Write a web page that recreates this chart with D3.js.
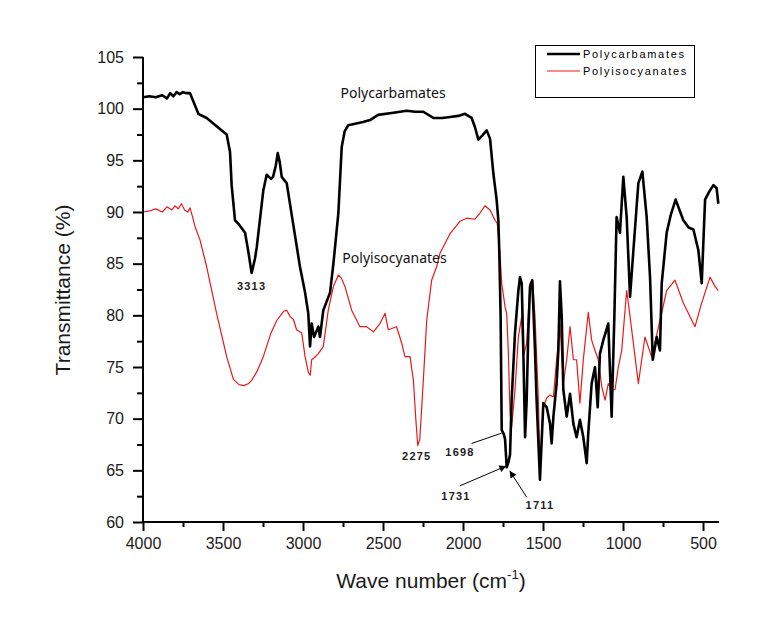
<!DOCTYPE html>
<html>
<head>
<meta charset="utf-8">
<script src="https://cdn.jsdelivr.net/npm/d3@7"></script>
<style>
  html, body { margin: 0; padding: 0; background: #fff; }
  svg { display: block; }
</style>
</head>
<body>
<svg id="chart" width="767" height="639"></svg>
<script>
// ---- Data ----
const seriesNames = ["Polycarbamates", "Polyisocyanates"];

const carbWave = [4000,3960,3920,3880,3850,3830,3810,3790,3770,3750,3730,3706,3685,3654,3602,3540,3477,3456,3446,3425,3400,3362,3340,3321,3300,3289,3248,3227,3200,3187,3170,3158,3145,3133,3102,3062,3019,2987,2967,2956,2946,2931,2904,2894,2873,2831,2810,2779,2758,2740,2717,2625,2581,2531,2435,2352,2300,2248,2185,2130,2081,2030,1988,1946,1925,1904,1880,1852,1831,1810,1790,1779,1773,1765,1758,1745,1737,1727,1716,1706,1696,1675,1654,1644,1633,1623,1612,1602,1592,1581,1567,1550,1540,1519,1498,1477,1456,1446,1435,1415,1404,1394,1383,1373,1352,1331,1310,1290,1269,1248,1227,1217,1196,1175,1158,1144,1123,1092,1071,1054,1040,1019,998,977,956,935,904,879,852,831,814,789,769,758,727,700,671,623,590,560,529,508,487,460,435,415,404];
const carbT = [101.1,101.2,101.1,101.3,101.0,101.5,101.2,101.6,101.4,101.6,101.5,101.5,100.7,99.5,99.1,98.3,97.5,95.8,92.6,89.2,88.8,88.0,86.0,84.1,85.5,86.6,92.1,93.6,93.2,93.4,94.5,95.7,94.8,93.4,92.8,88.9,84.7,82.2,80.2,77.0,79.2,77.9,78.9,77.9,80.5,82.2,85.0,89.9,96.3,97.8,98.4,98.7,98.9,99.4,99.6,99.8,99.7,99.7,99.1,99.1,99.2,99.3,99.5,99.1,98.2,97.0,97.4,97.9,97.1,93.7,91.2,89.2,86.0,80.0,68.9,68.5,68.0,65.3,65.8,66.5,71.8,78.3,82.4,83.7,83.1,76.6,68.2,71.8,78.3,82.8,83.4,76.6,71.8,64.1,71.5,71.1,69.5,67.6,70.2,73.4,76.6,83.3,79.9,72.8,70.2,72.4,69.5,68.2,69.9,68.2,65.7,68.6,73.4,75.0,71.1,76.3,77.6,79.2,70.2,79.9,89.5,88.0,93.4,89.5,81.8,86.3,92.8,93.9,89.5,83.7,75.7,77.9,76.6,83.1,88.0,89.8,91.2,89.2,88.5,88.3,86.3,83.1,91.2,92.0,92.6,92.3,90.8];

const isoWave = [4000,3960,3920,3880,3850,3820,3800,3780,3760,3740,3720,3706,3690,3675,3644,3602,3540,3477,3435,3400,3370,3340,3321,3290,3248,3200,3164,3120,3102,3081,3060,3040,3008,2987,2967,2955,2946,2930,2904,2873,2842,2810,2779,2760,2738,2696,2644,2602,2560,2519,2487,2467,2415,2383,2363,2331,2310,2295,2283,2270,2248,2227,2196,2165,2144,2081,2019,1977,1925,1894,1863,1831,1800,1786,1775,1769,1758,1737,1727,1717,1706,1696,1675,1654,1633,1623,1602,1581,1565,1550,1529,1519,1498,1477,1456,1435,1415,1394,1373,1352,1331,1310,1290,1269,1248,1217,1196,1175,1154,1133,1112,1092,1071,1050,1029,1008,977,956,904,863,821,769,727,675,623,550,508,456,425,404];
const isoT = [90.0,90.1,90.3,90.0,90.5,90.2,90.6,90.3,90.8,90.2,90.0,90.4,89.5,88.6,87.3,84.7,80.2,76.0,73.8,73.3,73.2,73.4,73.7,74.5,76.0,78.3,79.5,80.4,80.5,79.9,79.6,78.6,78.3,76.0,74.5,74.2,75.7,75.9,76.3,77.0,80.5,82.8,83.9,83.6,82.8,80.5,78.9,78.9,78.4,79.2,80.2,78.6,78.9,77.3,76.0,76.0,73.7,70.0,67.4,68.0,73.7,79.5,83.4,84.7,86.0,87.9,89.1,89.4,89.3,89.9,90.6,90.2,89.2,88.9,87.0,86.0,83.1,80.8,80.2,76.6,70.5,69.2,72.8,77.9,79.9,76.0,77.3,83.1,83.3,79.9,71.8,65.3,71.1,72.0,72.3,72.1,75.7,79.2,73.4,75.7,78.9,75.7,75.7,71.5,75.7,80.3,77.6,76.6,75.7,73.1,71.8,73.4,72.8,72.8,75.0,76.6,82.4,79.9,73.4,77.9,76.0,79.5,82.4,83.4,81.2,78.9,81.2,83.7,82.8,82.4];

const xTicks = [4000,3500,3000,2500,2000,1500,1000,500];
const xMinorTicks = [3750,3250,2750,2250,1750,1250,750];
const yTicks = [60,65,70,75,80,85,90,95,100,105];
const yMinorTicks = [62.5,67.5,72.5,77.5,82.5,87.5,92.5,97.5,102.5];

// peak labels: text, label position (wavenumber, T)
const peakLabels = ["3313","2275","1698","1731","1711"];
const peakLabelW = [3321,2289,2019,2044,1519];
const peakLabelT = [82.5,66.0,66.4,62.1,61.3];
// pointer lines: from (w,T) to (w,T); arrowhead flag
const pointerFromW = [1946,2019,1602];
const pointerFromT = [67.6,63.5,62.4];
const pointerToW = [1758,1733,1706];
const pointerToT = [68.6,65.4,64.9];
const pointerArrow = [false,true,true];

// curve name labels (wavenumber, T)
const curveLabelW = [2437,2428];
const curveLabelT = [101.0,85.1];

// ---- Drawing ----
const svg = d3.select("#chart");
const x = d3.scaleLinear().domain([4000, 400]).range([143, 719]);
const y = d3.scaleLinear().domain([60, 105]).range([522, 57]);

const colors = ["#000000", "#e8191b"];
const widths = [2.6, 1.2];

svg.append("defs").append("clipPath").attr("id", "clip")
  .append("rect").attr("x", 143).attr("y", 40).attr("width", 590).attr("height", 482);

svg.append("defs").append("marker")
  .attr("id", "arrow").attr("viewBox", "0 0 10 10")
  .attr("refX", 9).attr("refY", 5)
  .attr("markerWidth", 9).attr("markerHeight", 7)
  .attr("markerUnits", "userSpaceOnUse")
  .attr("orient", "auto")
  .append("path").attr("d", "M0,0 L10,5 L0,10 z").attr("fill", "#000");

const line = d3.line().x(d => x(d[0])).y(d => y(d[1]));
const seriesData = [
  d3.zip(isoWave, isoT),
  d3.zip(carbWave, carbT)
];
const seriesColor = [colors[1], colors[0]];
const seriesWidth = [widths[1], widths[0]];
// draw red first, then black on top
svg.append("g").attr("clip-path", "url(#clip)")
  .selectAll("path").data(seriesData).join("path")
  .attr("d", d => line(d))
  .attr("fill", "none")
  .attr("stroke", (d, i) => seriesColor[i])
  .attr("stroke-width", (d, i) => seriesWidth[i])
  .attr("stroke-linejoin", "round");

// Axes
const fontTick = "Arial, 'Liberation Sans', sans-serif";
const yAxis = svg.append("g").attr("transform", "translate(143,0)")
  .call(d3.axisLeft(y).tickValues(yTicks).tickSize(10).tickPadding(9).tickFormat(d3.format("d")));
svg.append("g").attr("transform", "translate(143,0)")
  .call(d3.axisLeft(y).tickValues(yMinorTicks).tickSize(6).tickFormat(""))
  .call(g => g.select(".domain").remove());
const xAxis = svg.append("g").attr("transform", "translate(0,522)")
  .call(d3.axisBottom(x).tickValues(xTicks).tickSize(9).tickPadding(7).tickFormat(d3.format("d")));
svg.append("g").attr("transform", "translate(0,522)")
  .call(d3.axisBottom(x).tickValues(xMinorTicks).tickSize(5).tickFormat(""))
  .call(g => g.select(".domain").remove());

svg.selectAll(".domain").attr("stroke", "#000").attr("stroke-width", 2);
svg.selectAll(".tick line").attr("stroke", "#000").attr("stroke-width", 2);
svg.selectAll(".tick text").attr("font-family", fontTick).attr("font-size", 16).attr("fill", "#1a1a1a");
yAxis.select(".domain").attr("d", "M0,522V57");
xAxis.select(".domain").attr("d", "M143,0H719");

// Axis titles
svg.append("text")
  .attr("transform", "translate(70,290) rotate(-90)")
  .attr("text-anchor", "middle")
  .attr("font-family", fontTick).attr("font-size", 21).attr("fill", "#1a1a1a")
  .text("Transmittance (%)");
const xt = svg.append("text")
  .attr("x", 431).attr("y", 588)
  .attr("text-anchor", "middle")
  .attr("font-family", fontTick).attr("font-size", 21).attr("fill", "#1a1a1a");
xt.append("tspan").text("Wave number (cm");
xt.append("tspan").attr("font-size", 13).attr("dy", -9).text("-1");
xt.append("tspan").attr("dy", 9).text(")");

// Curve name labels
svg.selectAll(".clabel").data(seriesNames).join("text")
  .attr("class", "clabel")
  .attr("x", (d, i) => x(curveLabelW[i]))
  .attr("y", (d, i) => y(curveLabelT[i]))
  .attr("text-anchor", "middle")
  .attr("font-family", "'Noto Sans', sans-serif").attr("font-size", 14).attr("fill", "#111")
  .text(d => d);

// Peak labels
svg.selectAll(".plabel").data(peakLabels).join("text")
  .attr("class", "plabel")
  .attr("x", (d, i) => x(peakLabelW[i]))
  .attr("y", (d, i) => y(peakLabelT[i]))
  .attr("text-anchor", "middle")
  .attr("font-family", fontTick).attr("font-size", 11).attr("font-weight", "bold")
  .attr("letter-spacing", 1.2).attr("fill", "#222")
  .text(d => d);

// Pointer lines
svg.selectAll(".pointer").data(pointerFromW).join("line")
  .attr("class", "pointer")
  .attr("x1", (d, i) => x(pointerFromW[i])).attr("y1", (d, i) => y(pointerFromT[i]))
  .attr("x2", (d, i) => x(pointerToW[i])).attr("y2", (d, i) => y(pointerToT[i]))
  .attr("stroke", "#000").attr("stroke-width", 1)
  .attr("marker-end", (d, i) => pointerArrow[i] ? "url(#arrow)" : null);

// Legend
const lg = svg.append("g");
lg.append("rect").attr("x", 535.5).attr("y", 45.5).attr("width", 159).attr("height", 52)
  .attr("fill", "#fff").attr("stroke", "#000").attr("stroke-width", 1);
seriesNames.forEach((name, i) => {
  const yy = 54 + i * 17;
  lg.append("line").attr("x1", 547).attr("x2", 580).attr("y1", yy).attr("y2", yy)
    .attr("stroke", colors[i]).attr("stroke-width", i === 0 ? 2.6 : 1.2);
  lg.append("text").attr("x", 583).attr("y", yy + 4)
    .attr("font-family", fontTick).attr("font-size", 11).attr("letter-spacing", 1.7)
    .attr("fill", "#000").text(name);
});
</script>
</body>
</html>
